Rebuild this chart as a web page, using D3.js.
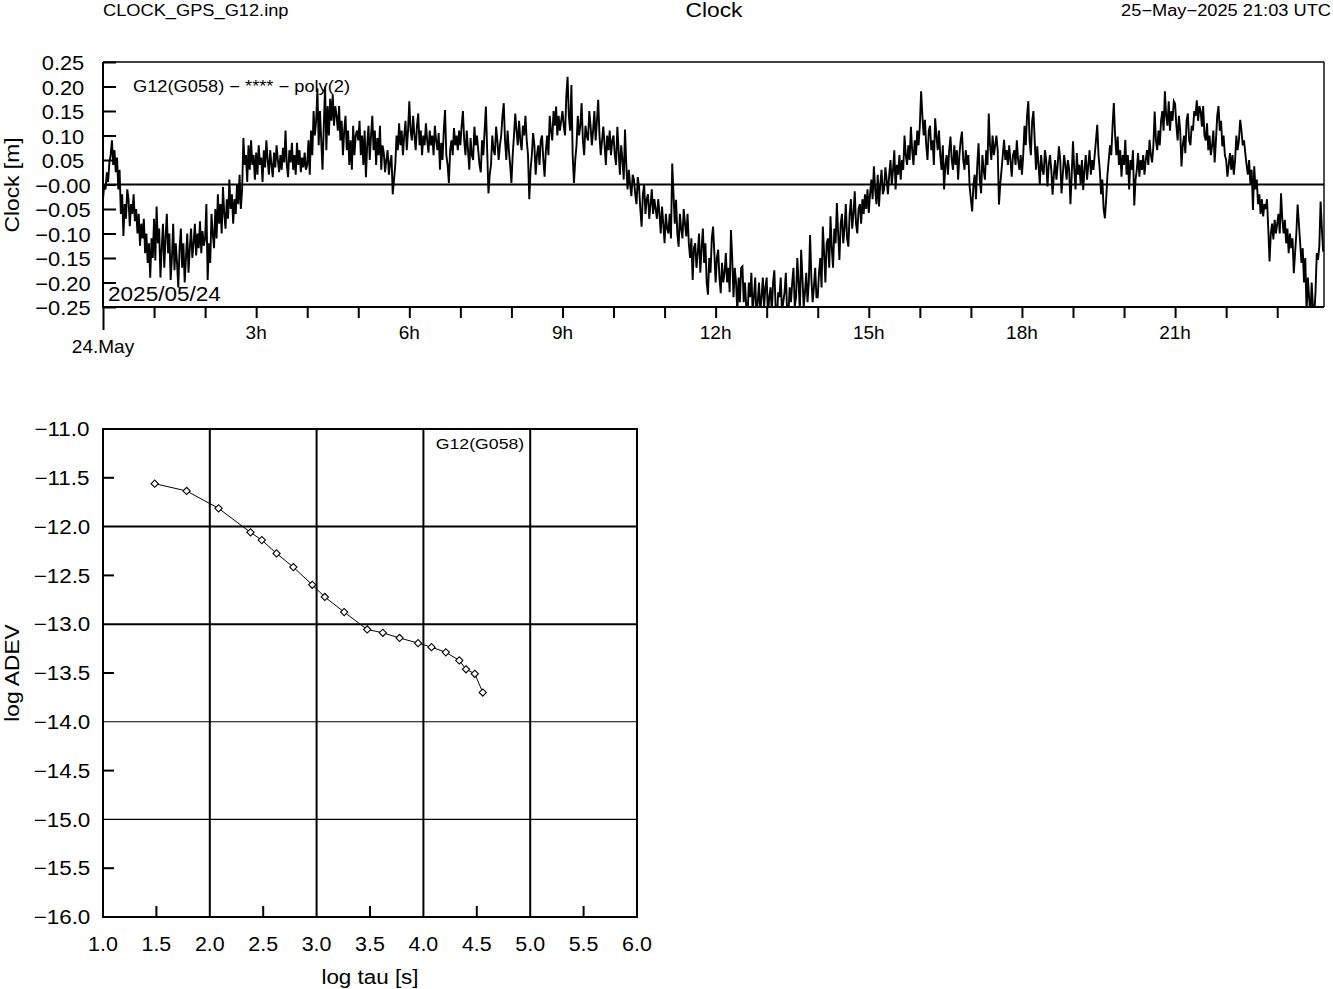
<!DOCTYPE html>
<html><head><meta charset="utf-8">
<script src="https://cdn.jsdelivr.net/npm/d3@7"></script>
<style>
body{margin:0;background:#fff}
svg{display:block}
text{font-family:"Liberation Sans",Arial,Helvetica,sans-serif;fill:#000}
</style>
</head><body>
<svg id="c" width="1333" height="989"></svg>
<script>
// ---------------- data ----------------
const headerLeft = "CLOCK_GPS_G12.inp";
const headerTitle = "Clock";
const headerRight = "25\u2212May\u22122025 21:03 UTC";
const seriesLabel = "G12(G058) \u2212 **** \u2212 poly(2)";
const dateLabel = "2025/05/24";
const adevLabel = "G12(G058)";
const startTime = "2025-05-24T00:00:00Z";
const endTime = "2025-05-24T23:55:00Z";
const sampleMinutes = 1.5;

// clock residuals in millimetres, one value every 1.5 minutes (40 per hour)
const clockMm = [
 -30,0,-10,25,5,45,60,90,40,70,25,55,-10,30,-60,-20,-105,-40,-70,-10,-30,-85,-40,-60,-20,-75,-50,-100,-60,-125,-80,-110,-70,-140,-100,-160,-120,-190,-110,-150,
 -70,-155,-45,-120,-90,-190,-130,-80,-170,-110,-60,-140,-100,-195,-150,-80,-175,-120,-160,-210,-130,-90,-170,-120,-200,-150,-100,-180,-130,-90,-150,-120,-80,-145,-100,-130,-75,-140,-95,-125,
 -110,-40,-195,-120,-160,-60,-100,-130,-50,-110,-20,-80,-40,-100,-5,-60,-90,-30,-70,10,-50,-20,-80,-30,-60,0,-40,20,-50,-10,95,40,60,5,80,30,90,40,60,10,
 65,20,80,40,55,5,70,35,90,50,20,70,40,15,65,35,80,50,25,60,30,75,45,110,40,15,70,45,85,30,60,20,85,40,70,25,55,35,65,30,
 40,90,20,110,60,150,100,130,196,80,150,90,30,120,200,70,160,100,175,130,183,120,160,140,110,160,90,130,60,110,140,70,110,40,90,30,120,60,100,110,
 90,130,60,100,40,110,15,80,120,50,100,140,70,110,40,95,60,120,30,80,65,25,50,70,20,45,60,-20,10,40,100,70,125,80,110,60,100,130,70,110,
 170,110,90,140,100,70,120,145,80,110,60,100,80,125,90,65,110,80,100,60,120,90,70,105,30,85,50,110,152,60,40,3,70,90,60,115,80,100,70,110,
 80,120,150,90,60,110,70,30,95,60,50,118,80,100,70,40,25,90,60,110,159,70,-18,20,40,100,70,60,118,90,50,80,100,140,166,90,50,110,70,40,
 3,60,100,145,110,80,130,90,70,120,100,140,90,60,-30,30,60,105,80,20,60,80,40,90,100,50,16,70,100,60,140,110,90,150,120,159,100,140,110,130,
 150,120,100,180,220,140,110,203,60,3,50,80,140,100,120,166,90,60,120,100,90,150,120,80,110,150,90,130,173,100,60,90,118,80,40,100,70,110,60,90,
 100,60,40,118,70,20,80,50,10,112,40,-10,30,0,-24,20,10,-20,-40,15,-5,-50,-86,-20,0,-60,-30,-20,-70,-40,-10,-60,-30,-50,-70,-30,-60,-100,-45,-80,
 -120,-60,-90,-100,-60,-110,43,-20,-80,-31,-100,-127,-60,-90,-110,-50,-80,-106,-60,-120,-150,-110,-195,-130,-120,-170,-140,-100,-180,-130,-90,-160,-120,-200,-225,-150,-180,-110,-86,-140,
 -200,-150,-133,-190,-222,-160,-200,-180,-140,-200,-170,-220,-93,-150,-230,-170,-200,-260,-190,-240,-170,-167,-240,-200,-250,-270,-200,-230,-180,-260,-230,-190,-270,-240,-200,-260,-230,-190,-250,-210,
 -190,-270,-230,-210,-260,-200,-175,-250,-280,-220,-230,-190,-260,-240,-220,-180,-260,-270,-210,-240,-200,-170,-250,-230,-150,-200,-260,-133,-190,-250,-220,-180,-240,-200,-103,-190,-240,-210,-170,-230,
 -230,-180,-150,-210,-86,-140,-200,-120,-110,-170,-65,-130,-170,-90,-120,-38,-100,-154,-80,-60,-120,-90,-40,-110,-127,-60,-30,-90,-60,-14,-80,-100,-50,-40,-80,-30,-60,-20,-50,-10,
 -58,-20,10,-30,37,-10,-40,20,-45,0,30,-20,-10,35,10,-20,20,50,0,30,70,-10,40,20,60,10,50,30,100,60,40,80,50,118,70,40,90,60,110,80,
 120,190,140,100,132,80,50,110,120,70,90,40,135,100,70,110,60,30,80,-10,40,60,20,70,98,50,30,80,40,70,10,60,90,108,50,30,70,40,60,-4,
 -30,-55,0,20,-30,40,84,10,-18,60,30,10,70,40,145,80,50,100,60,80,100,70,-41,0,30,60,91,50,70,40,80,50,16,60,70,40,90,50,30,60,
 20,60,120,80,140,170,90,60,130,150,90,30,78,40,0,60,30,20,70,50,-4,40,60,30,-21,20,50,10,40,78,50,-18,20,60,40,10,50,30,-40,20,
 88,30,-10,64,20,40,0,50,-11,30,60,10,40,70,20,50,30,60,90,122,60,30,-20,10,-50,-69,-30,20,50,80,60,120,166,100,60,98,40,70,16,60,
 40,91,20,60,-10,50,30,70,-43,10,30,64,16,50,30,60,20,50,70,40,91,60,45,80,149,90,70,110,80,130,150,110,190,140,120,170,110,150,130,170,
 165,120,90,140,110,37,80,100,64,130,145,90,80,120,110,150,140,172,130,160,150,118,160,100,90,125,70,100,60,80,110,45,90,140,160,110,130,78,100,60,
 50,16,40,64,30,60,20,50,100,70,90,132,110,80,90,64,40,20,50,0,30,-52,37,-10,10,-40,-20,-60,-30,-65,-40,-50,-30,-90,-157,-100,-80,-112,-72,-100,
 -80,-60,-100,-18,-70,-100,-72,-120,-90,-140,-100,-130,-110,-181,-140,-100,-41,-80,-120,-160,-130,-200,-150,-260,-190,-230,-270,-200,-250,-270,-220,-140,-154,-126,-35,-90,-137
];
const clockTicks = [0.25,0.20,0.15,0.10,0.05,0,-0.05,-0.10,-0.15,-0.20,-0.25];
const clockTickLabels = ["0.25","0.20","0.15","0.10","0.05","\u22120.00","\u22120.05","\u22120.10","\u22120.15","\u22120.20","\u22120.25"];
const hourTickLabels = {0:"24.May",3:"3h",6:"6h",9:"9h",12:"12h",15:"15h",18:"18h",21:"21h"};

// Allan deviation
const logTau  = [1.484,1.783,2.082,2.381,2.487,2.625,2.782,2.959,3.077,3.258,3.474,3.620,3.777,3.950,4.076,4.210,4.336,4.399,4.481,4.556];
const logAdev = [-11.56,-11.635,-11.813,-12.059,-12.138,-12.275,-12.415,-12.596,-12.721,-12.876,-13.054,-13.088,-13.141,-13.194,-13.235,-13.288,-13.371,-13.462,-13.508,-13.700];
const tauTicks = [1.0,1.5,2.0,2.5,3.0,3.5,4.0,4.5,5.0,5.5,6.0];
const tauTickLabels = ["1.0","1.5","2.0","2.5","3.0","3.5","4.0","4.5","5.0","5.5","6.0"];
const adevTicks = [-11.0,-11.5,-12.0,-12.5,-13.0,-13.5,-14.0,-14.5,-15.0,-15.5,-16.0];
const adevTickLabels = ["\u221211.0","\u221211.5","\u221212.0","\u221212.5","\u221213.0","\u221213.5","\u221214.0","\u221214.5","\u221215.0","\u221215.5","\u221216.0"];

// ---------------- drawing ----------------
const svg = d3.select("#c");
function stretch(sel, k){
  k = k || 1.14;
  sel.each(function(){
    const L = this.getComputedTextLength();
    this.setAttribute("textLength", (L*k).toFixed(1));
    this.setAttribute("lengthAdjust","spacingAndGlyphs");
  });
  return sel;
}
function txt(x,y,s,size,anchor,k){
  return stretch(svg.append("text").attr("x",x).attr("y",y).attr("font-size",size)
    .attr("text-anchor",anchor||"start").text(s), k);
}

// header
txt(103,16,headerLeft,16);
txt(714,16.5,headerTitle,20,"middle");
txt(1331,16,headerRight,16,"end");

// ---- top chart ----
const T = {l:103,r:1324,t:62,b:307};
const t0 = new Date(startTime), t1 = new Date(endTime);
const xT = d3.scaleUtc().domain([t0,t1]).range([T.l,T.r]);
const yT = d3.scaleLinear().domain([-0.25,0.25]).range([T.b,T.t]);
const series = clockMm.map((v,i)=>({t:new Date(t0.getTime()+i*sampleMinutes*60000), v:v/1000}));

svg.append("clipPath").attr("id","clipT").append("rect")
  .attr("x",T.l).attr("y",T.t).attr("width",T.r-T.l).attr("height",T.b-T.t);

svg.append("path").datum(series)
  .attr("clip-path","url(#clipT)")
  .attr("fill","none").attr("stroke","#000").attr("stroke-width",1.9)
  .attr("d", d3.line().x(d=>xT(d.t)).y(d=>yT(d.v)));

// zero line
svg.append("line").attr("x1",T.l).attr("x2",T.r).attr("y1",yT(0)).attr("y2",yT(0))
  .attr("stroke","#000").attr("stroke-width",2);

// y axis (inner ticks)
const gyT = svg.append("g").attr("transform",`translate(${T.l},0)`)
  .call(d3.axisLeft(yT).tickValues(clockTicks).tickSizeInner(-13).tickSizeOuter(0)
        .tickFormat((d,i)=>clockTickLabels[i]));
gyT.select(".domain").remove();
gyT.selectAll(".tick line").attr("stroke","#000").attr("stroke-width",2);
gyT.selectAll(".tick text").attr("x",-40).attr("dy","0.36em").attr("text-anchor","middle")
  .attr("font-size",21).attr("font-family",null);
stretch(gyT.selectAll(".tick text"), 1.04);

// x axis (outer ticks, every hour)
const hours = d3.utcHour.range(t0, t1);
const gxT = svg.append("g").attr("transform",`translate(0,${T.b})`)
  .call(d3.axisBottom(xT).tickValues(hours).tickSizeInner(11).tickSizeOuter(0).tickFormat(""));
gxT.select(".domain").remove();
gxT.selectAll(".tick line").attr("stroke","#000").attr("stroke-width",2)
  .attr("y2",(d)=>d.getUTCHours()===0?23:11);
hours.forEach(h=>{
  const hh = h.getUTCHours();
  if (hourTickLabels[hh]!==undefined){
    txt(xT(h), hh===0?353:339, hourTickLabels[hh], 19, "middle", 1.0);
  }
});

// frame
svg.append("line").attr("x1",T.l).attr("x2",T.r).attr("y1",T.t).attr("y2",T.t).attr("stroke","#000").attr("stroke-width",1.4);
svg.append("line").attr("x1",T.r).attr("x2",T.r).attr("y1",T.t).attr("y2",T.b).attr("stroke","#000").attr("stroke-width",1.4);
svg.append("line").attr("x1",T.l).attr("x2",T.l).attr("y1",T.t).attr("y2",T.b+1).attr("stroke","#000").attr("stroke-width",2);
svg.append("line").attr("x1",T.l).attr("x2",T.r).attr("y1",T.b).attr("y2",T.b).attr("stroke","#000").attr("stroke-width",2);

// labels
txt(133,92,seriesLabel,16,"start",1.14);
txt(108,301,dateLabel,20.5,"start",1.1);
stretch(svg.append("text").attr("transform",`translate(19,185) rotate(-90)`)
  .attr("text-anchor","middle").attr("font-size",20).text("Clock [m]"));

// ---- bottom chart ----
const B = {l:103,r:637,t:429,b:917};
const xB = d3.scaleLinear().domain([1,6]).range([B.l,B.r]);
const yB = d3.scaleLinear().domain([-16,-11]).range([B.b,B.t]);

// grid
const gridX = tauTicks.filter(v=>Number.isInteger(v) && v>1 && v<6);
const gridY = adevTicks.filter(v=>Number.isInteger(v) && v>-16 && v<-11);
svg.append("g").selectAll("line").data(gridX).join("line")
  .attr("x1",d=>xB(d)).attr("x2",d=>xB(d)).attr("y1",B.t).attr("y2",B.b)
  .attr("stroke","#000").attr("stroke-width",2);
svg.append("g").selectAll("line").data(gridY).join("line")
  .attr("x1",B.l).attr("x2",B.r).attr("y1",d=>yB(d)).attr("y2",d=>yB(d))
  .attr("stroke","#000").attr("stroke-width",d=>d>-13.5?2:1.1);

// half-unit ticks
const halfX = tauTicks.filter(v=>!Number.isInteger(v));
const halfY = adevTicks.filter(v=>!Number.isInteger(v));
svg.append("g").selectAll("line").data(halfX).join("line")
  .attr("x1",d=>xB(d)).attr("x2",d=>xB(d)).attr("y1",B.b).attr("y2",B.b-11)
  .attr("stroke","#000").attr("stroke-width",2);
svg.append("g").selectAll("line").data(halfY).join("line")
  .attr("x1",B.l).attr("x2",B.l+11).attr("y1",d=>yB(d)).attr("y2",d=>yB(d))
  .attr("stroke","#000").attr("stroke-width",2);

// frame
svg.append("rect").attr("x",B.l).attr("y",B.t).attr("width",B.r-B.l).attr("height",B.b-B.t)
  .attr("fill","none").attr("stroke","#000").attr("stroke-width",2);

// tick labels
tauTicks.forEach((v,i)=>txt(xB(v),951,tauTickLabels[i],20,"middle",1.07));
adevTicks.forEach((v,i)=>stretch(svg.append("text").attr("x",62).attr("y",yB(v)).attr("dy","0.36em")
  .attr("text-anchor","middle").attr("font-size",20).text(adevTickLabels[i]), 1.12));

// ADEV curve
const adev = logTau.map((v,i)=>({x:v,y:logAdev[i]}));
svg.append("path").datum(adev).attr("fill","none").attr("stroke","#000").attr("stroke-width",1)
  .attr("d",d3.line().x(d=>xB(d.x)).y(d=>yB(d.y)));
svg.append("g").selectAll("path").data(adev).join("path")
  .attr("transform",d=>`translate(${xB(d.x)},${yB(d.y)}) rotate(45)`)
  .attr("d",d3.symbol(d3.symbolSquare,26)())
  .attr("fill","#fff").attr("stroke","#000").attr("stroke-width",1.1);

// labels
txt(480,449,adevLabel,15.5,"middle",1.14);
txt(370,984,"log tau [s]",20,"middle",1.12);
stretch(svg.append("text").attr("transform",`translate(19,673) rotate(-90)`)
  .attr("text-anchor","middle").attr("font-size",20).text("log ADEV"));
</script>
</body></html>
